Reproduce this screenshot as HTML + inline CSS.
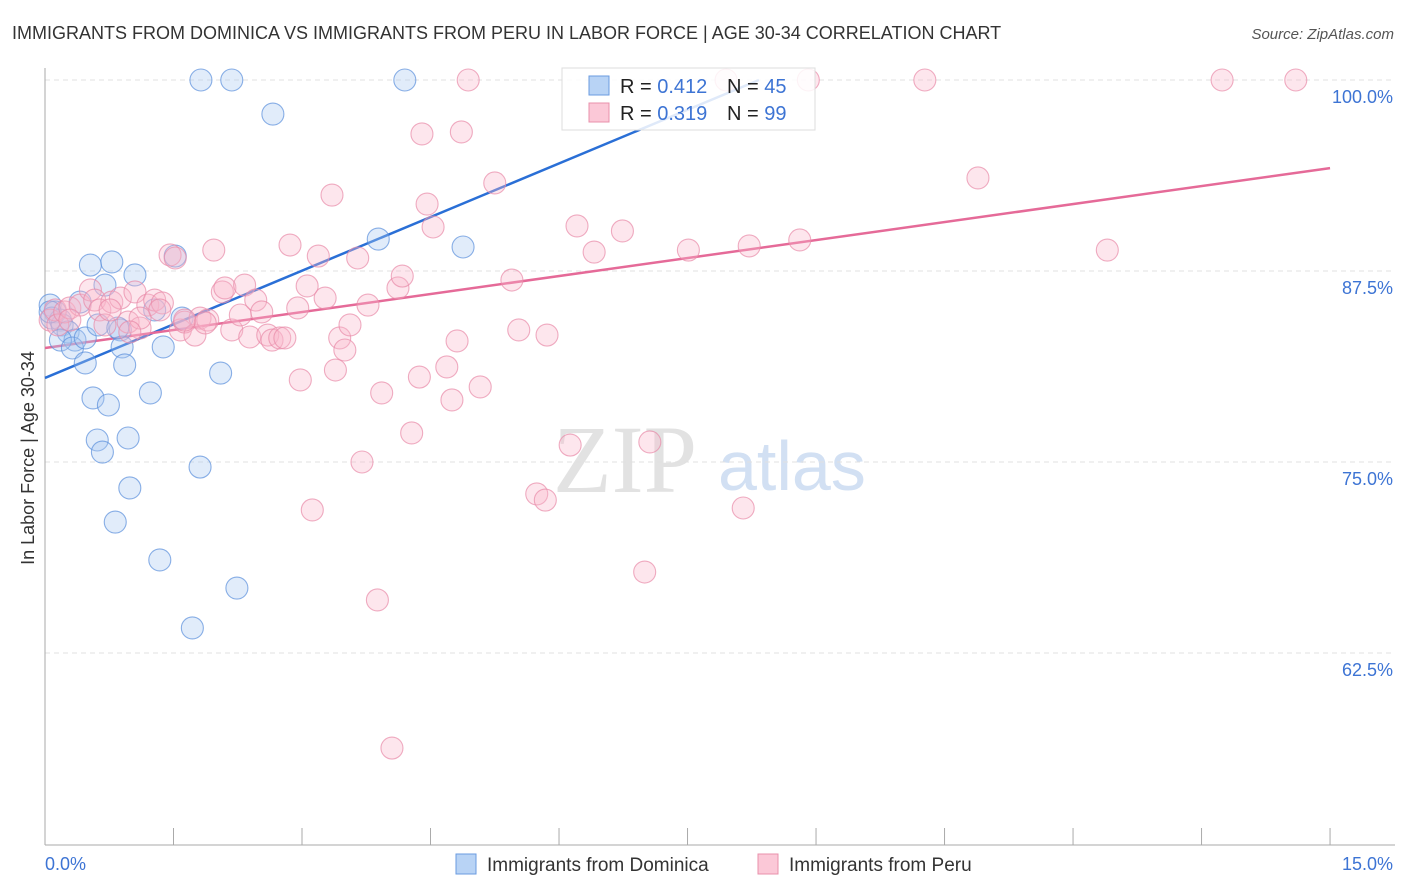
<!DOCTYPE html>
<html><head><meta charset="utf-8"><style>
body{margin:0;background:#fff;font-family:"Liberation Sans",sans-serif}
svg{display:block}
</style></head><body>
<svg id="chart" width="1406" height="892" viewBox="0 0 1406 892" xmlns="http://www.w3.org/2000/svg">
<text x="12" y="39" font-size="18" fill="#333">IMMIGRANTS FROM DOMINICA VS IMMIGRANTS FROM PERU IN LABOR FORCE | AGE 30-34 CORRELATION CHART</text>
<text x="1394" y="39" font-size="15" fill="#555" text-anchor="end" font-style="italic">Source: ZipAtlas.com</text>
<g>
<text x="553" y="492" font-size="96" font-family="Liberation Serif,serif" fill="#e2e2e2">ZIP</text>
<text x="718" y="490" font-size="70" fill="#d2e0f3">atlas</text>
</g>
<g id="grid"></g><g id="axes"></g><g id="lines"></g><g id="pts"></g>
<text transform="translate(34,458) rotate(-90)" font-size="18" fill="#333" text-anchor="middle">In Labor Force | Age 30-34</text>
<g>
<rect x="562" y="68" width="253" height="62" fill="#fff" fill-opacity="0.85" stroke="#ddd"/>
<rect x="589" y="76" width="20" height="19" fill="#b8d3f5" stroke="#6a9be0"/>
<rect x="589" y="103" width="20" height="19" fill="#fbc8d7" stroke="#e890ab"/>
<text x="620" y="93" font-size="20" fill="#222">R = <tspan fill="#3d74d4">0.412</tspan></text>
<text x="727" y="93" font-size="20" fill="#222">N = <tspan fill="#3d74d4">45</tspan></text>
<text x="620" y="120" font-size="20" fill="#222">R = <tspan fill="#3d74d4">0.319</tspan></text>
<text x="727" y="120" font-size="20" fill="#222">N = <tspan fill="#3d74d4">99</tspan></text>
</g>
<g>
<rect x="456" y="854" width="20" height="20" fill="#b8d3f5" stroke="#6a9be0"/>
<text x="487" y="871" font-size="19" fill="#333">Immigrants from Dominica</text>
<rect x="758" y="854" width="20" height="20" fill="#fbc8d7" stroke="#e890ab"/>
<text x="789" y="871" font-size="19" fill="#333">Immigrants from Peru</text>
</g>
</svg>
<script>
const xTicks=[0,1.5,3,4.5,6,7.5,9,10.5,12,13.5,15];
const yTicks=[100,87.5,75,62.5];
const yTickLabels=["100.0%","87.5%","75.0%","62.5%"];
const dominicaX=[.06,.12,.08,.18,.20,.27,.35,.18,.32,.47,.41,.53,.78,.47,.56,.74,.61,.67,.97,.99,.82,.70,1.05,.62,.88,.90,.93,1.23,1.28,1.38,1.52,1.60,1.34,1.72,1.81,2.05,2.24,1.82,2.18,2.66,3.89,4.20,4.88,.85,.06];
const dominicaY=[85.27,84.82,84.42,84.29,83.97,83.51,82.98,82.98,82.46,83.12,85.47,87.89,88.09,81.48,79.19,78.73,76.44,75.65,76.57,73.30,71.07,86.58,87.24,83.97,83.64,82.53,81.35,79.52,84.95,82.53,88.48,84.42,68.59,64.14,74.67,80.82,66.75,100,100,97.77,89.59,100,89.07,83.77,84.82];
const peruX=[.06,.12,.15,.23,.29,.41,.53,.58,.64,.70,.78,.88,.97,1.05,1.11,1.20,1.28,1.37,1.46,1.52,1.58,1.63,1.75,1.81,1.90,1.97,2.07,2.10,2.18,2.28,2.33,2.39,2.46,2.53,2.60,2.65,2.74,2.80,2.86,2.95,2.98,3.06,3.12,3.19,3.27,3.35,3.39,3.44,3.50,3.56,3.65,3.70,3.77,3.88,3.93,4.05,4.12,4.17,4.28,4.37,4.40,4.46,4.53,4.69,4.75,4.81,4.86,4.94,5.08,5.25,5.45,5.53,5.74,5.84,5.86,6.13,6.21,6.41,6.74,7.00,7.06,7.51,7.95,8.15,8.22,8.81,8.91,10.27,10.89,12.40,13.74,14.60,1.63,.76,1.11,1.34,.29,.99,1.87];
const peruY=[84.29,84.95,83.97,84.82,85.08,85.27,86.26,85.60,84.95,83.97,85.47,85.73,84.16,86.13,83.77,85.27,85.60,85.41,88.55,88.35,83.64,84.16,83.31,84.42,84.29,88.87,86.13,86.39,83.64,84.62,86.58,83.18,85.60,84.82,83.31,82.98,83.12,83.12,89.20,85.08,80.37,86.52,71.86,88.48,85.73,92.47,81.02,83.12,82.33,83.97,88.35,75.00,85.27,65.97,79.52,56.28,86.39,87.17,76.90,80.56,96.47,91.88,90.38,81.22,79.06,82.92,96.60,100,79.91,93.26,86.91,83.64,72.91,72.51,83.31,76.11,90.45,88.74,90.12,67.80,76.31,88.87,100,71.99,89.14,89.53,100,100,93.59,88.87,100,100,84.29,84.95,84.42,84.95,84.29,83.51,84.10];
const dominicaFit=[80.5,2.34];
const peruFit=[82.46,0.785];

const NS="http://www.w3.org/2000/svg";
const X=v=>45+v*85.67, Y=v=>80+(100-v)*15.28;
function mk(t,a,p){const e=document.createElementNS(NS,t);for(const k in a)e.setAttribute(k,a[k]);document.getElementById(p).appendChild(e);return e;}
yTicks.forEach((t,i)=>{
 const g=mk('line',{x1:45,x2:1395,y1:Y(t),y2:Y(t),stroke:'#e0e0e0','stroke-dasharray':'5,4'},'grid');
 
 
 const l=mk('text',{x:1393,y:Y(t)+23,'font-size':18,fill:'#3d74d4','text-anchor':'end'},'grid');
 l.textContent=yTickLabels[i];
 
 
});
const ya=mk('line',{x1:45,x2:45,y1:68,y2:845,stroke:'#aaa'},'axes');


const xa=mk('line',{x1:45,x2:1395,y1:845,y2:845,stroke:'#aaa'},'axes');


xTicks.forEach(t=>{const k=mk('line',{x1:X(t),x2:X(t),y1:828,y2:845,stroke:'#aaa'},'axes');
 
 });
const x0=mk('text',{x:45,y:870,'font-size':18,fill:'#3d74d4'},'axes');x0.textContent='0.0%';


const x1=mk('text',{x:1393,y:870,'font-size':18,fill:'#3d74d4','text-anchor':'end'},'axes');x1.textContent='15.0%';


function pts(xs,ys,fill,stroke,name){xs.forEach((x,i)=>{const c=mk('circle',{cx:X(x),cy:Y(ys[i]),r:11,fill:fill,'fill-opacity':0.35,stroke:stroke,'stroke-opacity':0.7,'stroke-width':1.1},'pts');
 
 });}
pts(dominicaX,dominicaY,'#a8c8f0','#5a8fdc','dominica-point');
pts(peruX,peruY,'#f8b8cb','#e88aa8','peru-point');
const xe=(100-dominicaFit[0])/dominicaFit[1];
const bl=mk('line',{x1:X(0),y1:Y(dominicaFit[0]),x2:X(xe),y2:Y(100),stroke:'#2a6fd6','stroke-width':2.5},'lines');


const pl=mk('line',{x1:X(0),y1:Y(peruFit[0]),x2:X(15),y2:Y(peruFit[0]+15*peruFit[1]),stroke:'#e56a98','stroke-width':2.5},'lines');


</script>
</body></html>
